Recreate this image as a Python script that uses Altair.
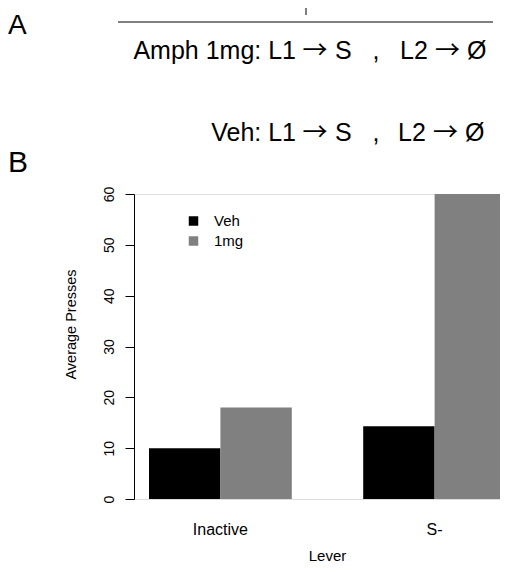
import altair as alt
import pandas as pd

# ---- data ----
levers = ["Inactive", "S-"]
groups = ["Veh", "1mg"]
veh_values = [10.0, 14.3]
mg_values = [18.0, 60.0]
group_colors = ["#000000", "#808080"]
y_ticks = [0, 10, 20, 30, 40, 50, 60]

panel_a = "A"
panel_b = "B"
row1_left = "Amph 1mg: L1"
row2_left = "Veh: L1"
arrow = "\u2192"
target_s = "S"
row_comma = ","
lever2 = "L2"
empty_set = "\u00d8"

rows = []
for i, lv in enumerate(levers):
    rows.append({"Lever": lv, "Group": groups[0], "Presses": veh_values[i]})
    rows.append({"Lever": lv, "Group": groups[1], "Presses": mg_values[i]})
df = pd.DataFrame(rows)

FONT = "Liberation Sans"
ARROW_FONT = "Noto Sans CJK SC"

bars = alt.Chart(df).mark_bar(strokeWidth=0).encode(
    x=alt.X(
        "Lever:N",
        sort=levers,
        scale=alt.Scale(paddingInner=1 / 3, paddingOuter=0, range=[15, 372]),
        axis=alt.Axis(
            domain=False, ticks=False, tickSize=0, labelAngle=0,
            labelFontSize=16, labelPadding=35, labelBaseline="alphabetic",
            labelColor="black", labelFont=FONT,
            title="Lever", titleFontSize=15, titleFontWeight="normal",
            titleColor="black", titleFont=FONT,
            titleX=193, titleY=61, titleAlign="center", titleBaseline="alphabetic",
        ),
    ),
    xOffset=alt.XOffset("Group:N", sort=groups,
                        scale=alt.Scale(paddingInner=0, paddingOuter=0)),
    y=alt.Y(
        "Presses:Q",
        scale=alt.Scale(domain=[0, 60], nice=False, zero=True),
        axis=alt.Axis(
            values=y_ticks, grid=False, tickSize=9, tickColor="black",
            domainColor="black", labelAngle=270, labelAlign="center",
            labelBaseline="bottom", labelPadding=9, labelFontSize=14,
            labelColor="black", labelFont=FONT, labelFlush=False, labelOverlap=False,
            title="Average Presses", titleAngle=270, titleFontSize=14.5,
            titleFontWeight="normal", titleColor="black", titleFont=FONT,
            titleX=-59, titleY=130, titleAlign="center", titleBaseline="alphabetic",
        ),
    ),
    color=alt.Color(
        "Group:N",
        sort=groups,
        scale=alt.Scale(domain=groups, range=group_colors),
        legend=alt.Legend(
            title=None, orient="none", legendX=52, legendY=19.5,
            symbolType="square", symbolSize=90, symbolStrokeWidth=0,
            labelFontSize=15, labelFont=FONT, labelColor="black",
            labelOffset=13, rowPadding=4, padding=0,
        ),
    ),
)

one = alt.Data(values=[{}])


def label(text, x, y, size, align="left", font=FONT):
    return alt.Chart(one).mark_text(
        text=text, align=align, baseline="alphabetic", fontSize=size,
        font=font, color="black",
    ).encode(x=alt.value(x), y=alt.value(y))


top_rule = alt.Chart(one).mark_rule(color="black", strokeWidth=1).encode(
    x=alt.value(-16), x2=alt.value(359), y=alt.value(-172)
)
top_tick = alt.Chart(one).mark_rule(color="black", strokeWidth=1).encode(
    x=alt.value(172), y=alt.value(-190), y2=alt.value(-179)
)

Y1 = -135.5
Y2 = -53


def row(left_text, y, shift):
    return [
        label(left_text, 162, y, 25, "right"),
        label(arrow, 181, y, 25, "center", ARROW_FONT),
        label(target_s, 201, y, 25),
        label(row_comma, 242, y, 25, "center"),
        label(lever2, 266 + shift, y, 25),
        label(arrow, 313.5 + shift, y, 25, "center", ARROW_FONT),
        label(empty_set, 333 + shift, y, 25),
    ]


chart = alt.layer(
    bars,
    top_rule,
    top_tick,
    label(panel_a, -126, -160, 28),
    label(panel_b, -126, -22, 30),
    *row(row1_left, Y1, 0),
    *row(row2_left, Y2, -2),
).properties(
    width=366,
    height=305,
    autosize=alt.AutoSizeParams(type="none"),
    padding={"left": 126, "top": 186, "right": 0, "bottom": 65},
).configure_view(strokeWidth=0).configure(font=FONT)

chart.save("out.html", embed_options={"renderer": "svg", "actions": False})
